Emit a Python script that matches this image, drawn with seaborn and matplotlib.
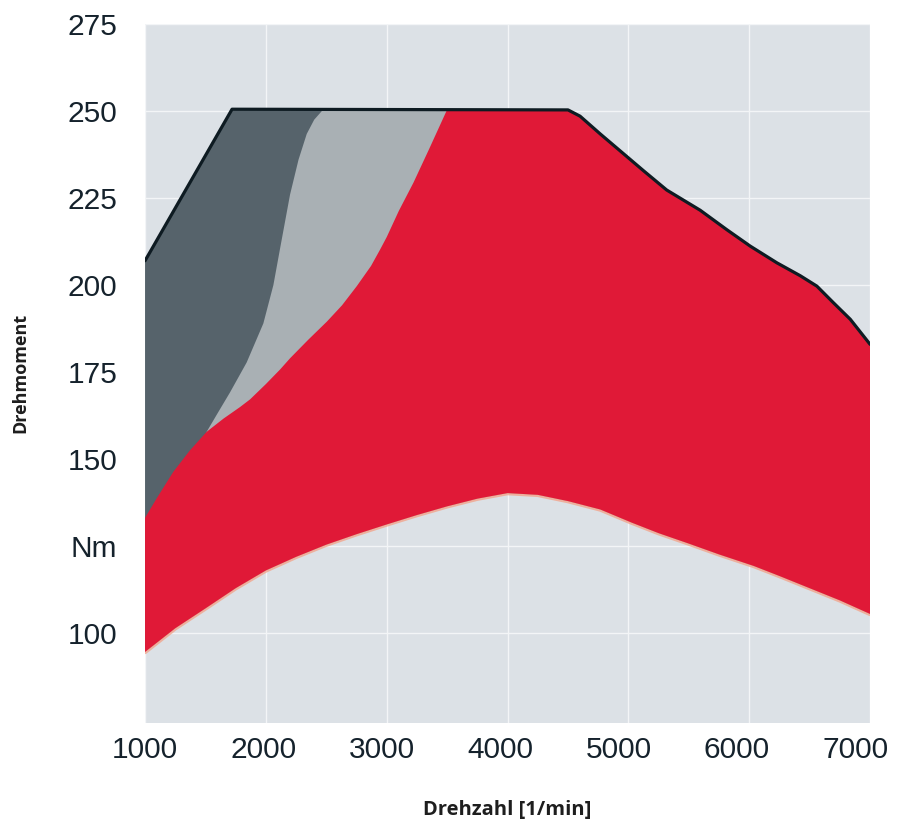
import matplotlib
matplotlib.use("Agg")
import matplotlib.pyplot as plt
import matplotlib.transforms as mtransforms
import seaborn as sns


# maximum torque (black outline)
rpm_max = [1000, 1720, 4500, 4600, 4767, 5123, 5317, 5594, 5815, 6008, 6229, 6422, 6560, 6695, 6836, 7000]
torque_max = [207, 250.5, 250.3, 248.5, 243.4, 232.9, 227.3, 221.5, 215.9, 211.2, 206.4, 202.7, 199.7, 195, 190.2, 183]

# dark grey / light grey border
rpm_light = [1510, 1600, 1703, 1841, 1979, 2062, 2120, 2200, 2270, 2338, 2400, 2474]
torque_light = [157.9, 163.2, 169.2, 177.8, 189, 200, 211, 226, 236, 243.4, 247.5, 250.4]

# upper edge of the red band
rpm_red_top = [1000, 1100, 1234, 1370, 1510, 1650, 1786, 1869, 2000, 2118, 2200, 2350, 2504,
               2630, 2752, 2870, 2945, 3000, 3100, 3221, 3350, 3500]
torque_red_top = [133.2, 139, 146.4, 152.5, 157.9, 161.7, 165, 167.2, 171.6, 175.8, 179, 184.3, 189.5,
                  194.2, 199.7, 205.5, 210.2, 213.8, 221.3, 229.4, 239, 250.4]

# lower edge of the red band
rpm_red_low = [1000, 1250, 1500, 1750, 2000, 2250, 2500, 2750, 3000, 3250, 3500, 3750, 4000,
               4250, 4500, 4767, 5029, 5250, 5500, 5750, 6036, 6250, 6500, 6750, 7000]
torque_red_low = [94.7, 101.5, 107.2, 113, 118.1, 122, 125.5, 128.5, 131.3, 134, 136.5, 138.7, 140.3,
                  139.8, 138, 135.6, 131.8, 128.8, 125.8, 122.7, 119.4, 116.5, 113, 109.5, 105.6]

y_ticks = [100, 125, 150, 175, 200, 225, 250, 275]
y_labels = ["100", "Nm", "150", "175", "200", "225", "250", "275"]
x_ticks = [1000, 2000, 3000, 4000, 5000, 6000, 7000]

sns.set_theme(style="darkgrid", rc={
    "axes.facecolor": "#dce1e6",
    "grid.color": "#f3f5f7",
    "grid.linewidth": 1.0,
    "axes.edgecolor": "none",
})

fig = plt.figure(figsize=(8.97, 8.23), dpi=100)
ax = fig.add_axes([0.1617, 0.1215, 0.8083, 0.8495])


def region(top_x, top_y, after):
    # outline of a band: its own upper edge, then the max-torque line, then back along the red lower edge
    xs = list(top_x) + [r for r in rpm_max if r > after]
    ys = list(top_y) + [t for r, t in zip(rpm_max, torque_max) if r > after]
    xs += rpm_red_low[::-1]
    ys += torque_red_low[::-1]
    return xs, ys


xs, ys = region([], [], 0)
ax.fill(xs, ys, color="#56636b", lw=0, zorder=2)
xs, ys = region(rpm_light, torque_light, rpm_light[-1])
ax.fill(xs, ys, color="#a9b0b4", lw=0, zorder=3)
sns.lineplot(x=rpm_red_low, y=torque_red_low, ax=ax, color="#f2a48c", lw=3.2, alpha=0.8, zorder=4)
xs, ys = region(rpm_red_top, torque_red_top, rpm_red_top[-1])
ax.fill(xs, ys, color="#e01937", lw=0, zorder=5)
sns.lineplot(x=rpm_max, y=torque_max, ax=ax, sort=False, color="#0e1b22", lw=2.3, zorder=7)

ax.set_xlim(1000, 7000)
ax.set_ylim(74.3, 273.7)
ax.set_xticks(x_ticks)
ax.set_xticklabels([str(v) for v in x_ticks])
ax.set_yticks(y_ticks)
ax.set_yticklabels(y_labels)
ax.tick_params(axis="both", length=0, labelsize=21.5, labelcolor="#15222c")
ax.tick_params(axis="y", pad=20)
ax.tick_params(axis="x", pad=9)
for lab in ax.get_xticklabels() + ax.get_yticklabels():
    lab.set_fontfamily("Liberation Sans")
# the printed labels drift slightly left of the grid lines
for i, lab in enumerate(ax.get_xticklabels()):
    lab.set_transform(lab.get_transform() + mtransforms.ScaledTranslation(-0.025 * i, 0, fig.dpi_scale_trans))

ax.set_xlabel("Drehzahl [1/min]", fontsize=14.5, fontweight="bold",
              family="Open Sans", color="#1e1e1e", va="center")
ax.set_ylabel("Drehmoment", fontsize=13, fontweight="bold",
              family="Open Sans", color="#1e1e1e", va="center")
ax.xaxis.set_label_coords(0.5, -0.125)
ax.yaxis.set_label_coords(-0.172, 0.5)

plt.savefig("out.png", dpi=100)
